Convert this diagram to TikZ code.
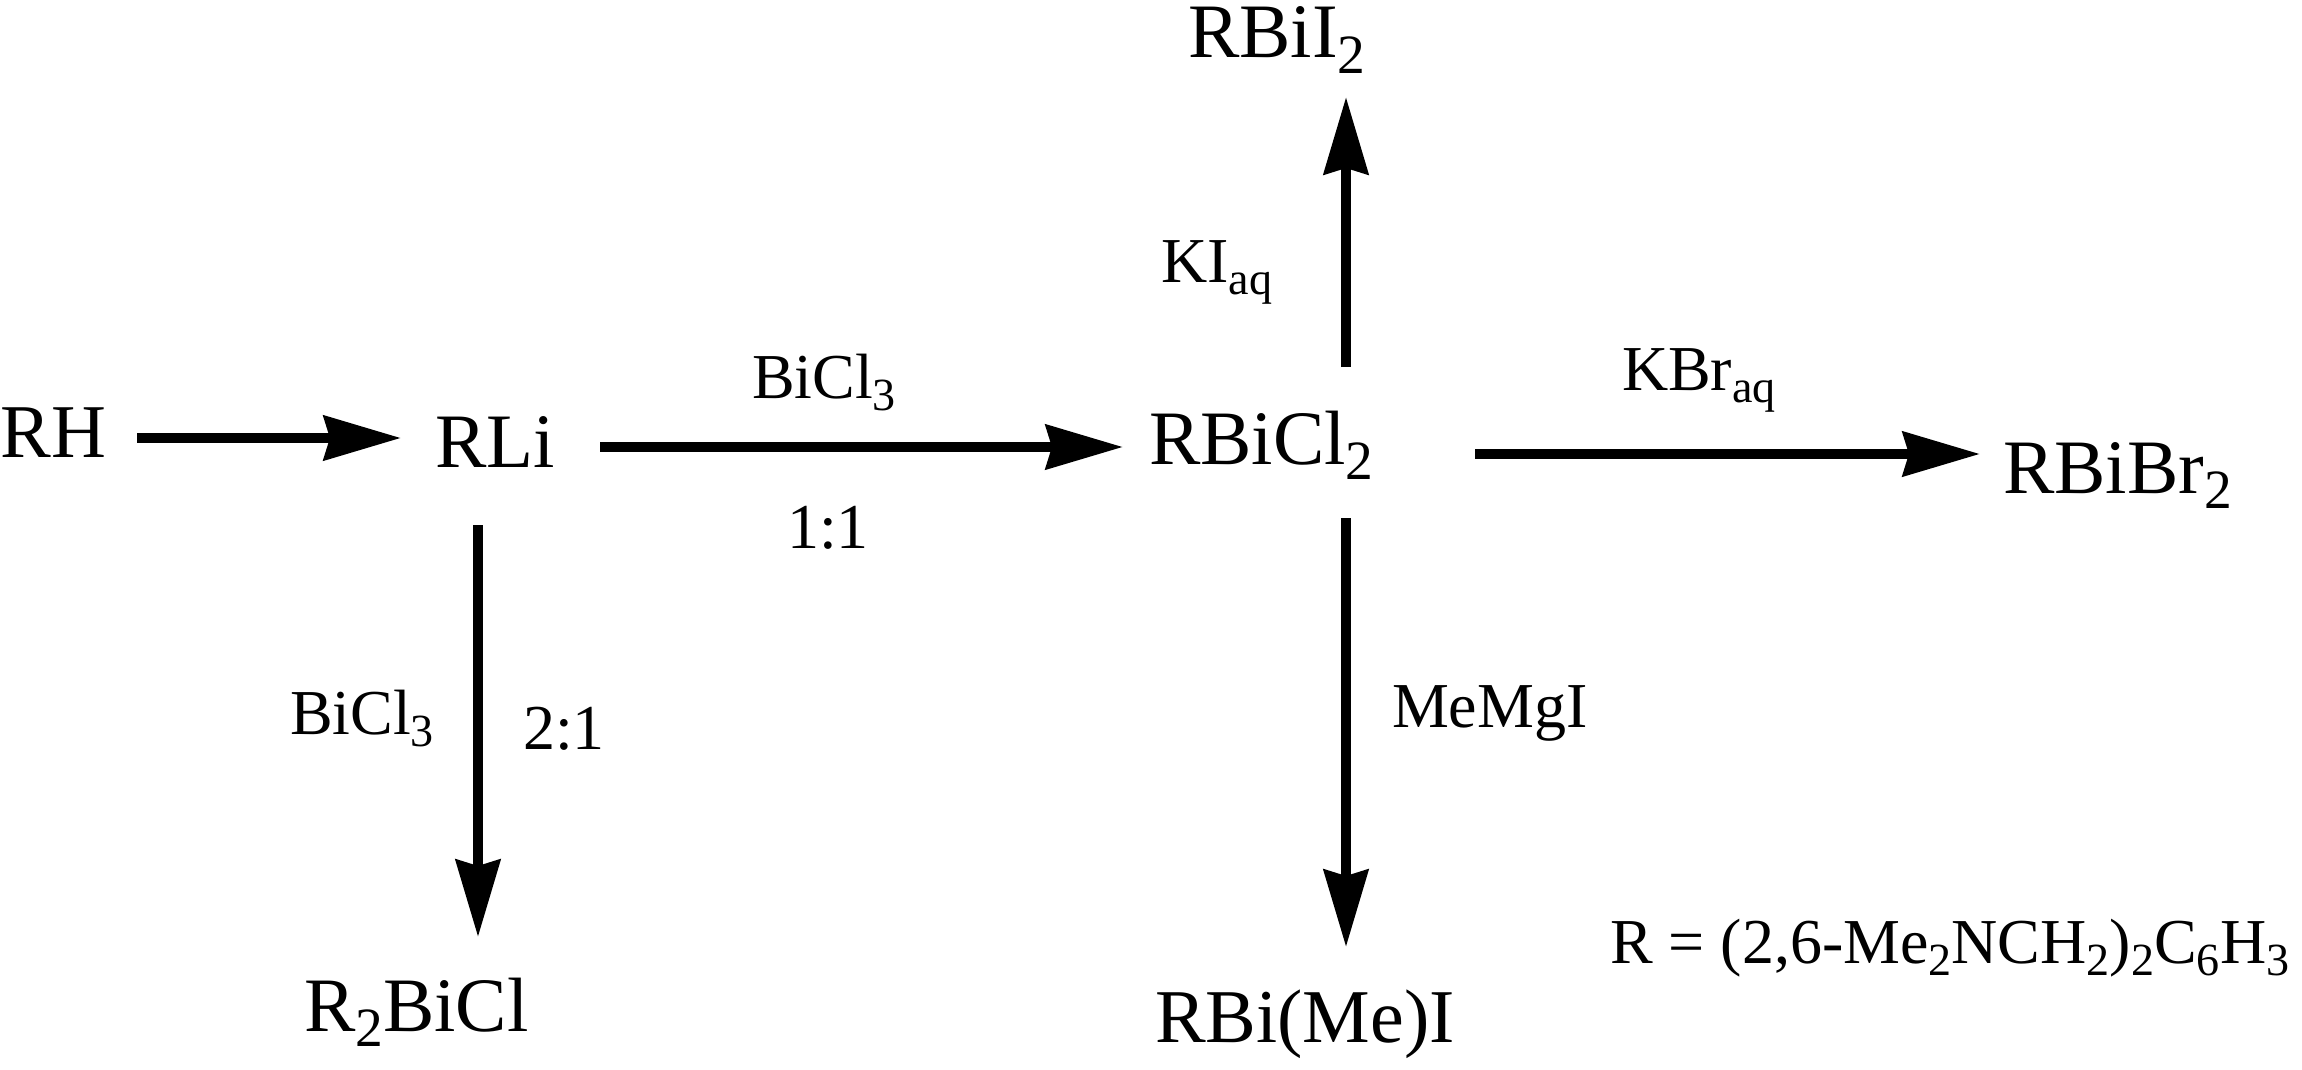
\documentclass[tikz,border=0pt]{standalone}
\usepackage{fontspec}
\setmainfont{Liberation Serif}
\usetikzlibrary{arrows.meta}
\newcommand{\dn}[1]{\raisebox{-.2em}{\scalebox{.72}{#1}}}
\tikzset{
  chem/.style={anchor=base west,inner sep=0pt,outer sep=0pt,font=\fontsize{77}{80}\selectfont},
  chems/.style={anchor=base west,inner sep=0pt,outer sep=0pt,font=\fontsize{76}{80}\selectfont},
  lab/.style={anchor=base west,inner sep=0pt,outer sep=0pt,font=\fontsize{64}{70}\selectfont},
  rxn/.style={line width=10pt,draw=black,-{Stealth[length=77pt,width=44pt,inset=6pt]}}
}
\begin{document}
\begin{tikzpicture}[x=1pt,y=-1pt]
\useasboundingbox (0,0) rectangle (2302,1070);
\node[chems] (rh) at (1,457) {RH};
\node[chem] (rli) at (435,467) {RLi};
\node[chem] (rbicl) at (1149,464) {RBiCl\dn{2}};
\node[chem] (rbibr) at (2003,493) {RBiBr\dn{2}};
\node[chem] (rbii) at (1188,58) {RBiI\dn{2}};
\node[chem] (r2) at (304,1031) {R\dn{2}BiCl};
\node[chems] (rbime) at (1155,1042) {RBi(Me)I};
\node[lab] (rdef) at (1610,963) {R = (2,6-Me\dn{2}NCH\dn{2})\dn{2}C\dn{6}H\dn{3}};
\node[lab] (ki) at (1161,282) {KI\dn{aq}};
\node[lab] (kbr) at (1622,390) {KBr\dn{aq}};
\node[lab] (bi1) at (752,398) {BiCl\dn{3}};
\node[lab] (ratio1) at (787,548) {1:1};
\node[lab] (bi2) at (290,734) {BiCl\dn{3}};
\node[lab] (ratio2) at (523,749) {2:1};
\node[lab] (memgi) at (1392,727) {MeMgI};
\draw[rxn] ([shift={(136,-19)}]rh.base west) -- ([shift={(-34,-29)}]rli.base west);
\draw[rxn] ([shift={(165,-20)}]rli.base west) -- ([shift={(-26,-17)}]rbicl.base west);
\draw[rxn] ([shift={(326,-10)}]rbicl.base west) -- ([shift={(-23,-39)}]rbibr.base west);
\draw[rxn] ([shift={(197,-97)}]rbicl.base west) -- ([shift={(158,39)}]rbii.base west);
\draw[rxn] ([shift={(197,54)}]rbicl.base west) -- ([shift={(191,-95)}]rbime.base west);
\draw[rxn] ([shift={(43,58)}]rli.base west) -- ([shift={(174,-94)}]r2.base west);
\end{tikzpicture}
\end{document}
